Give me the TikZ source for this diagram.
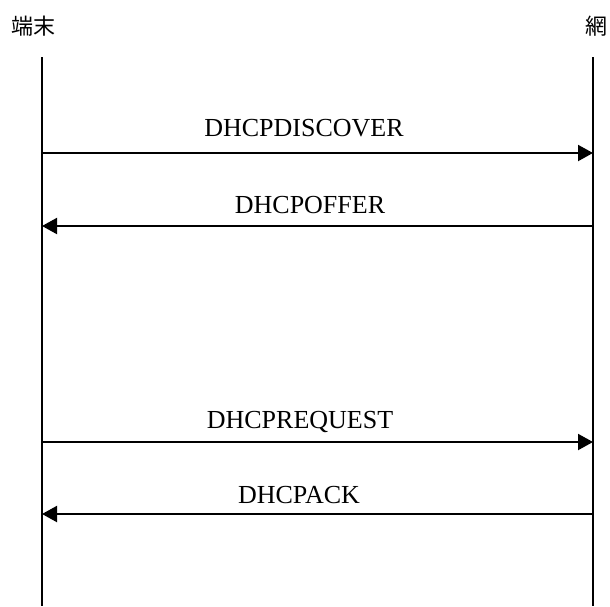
\documentclass[tikz,border=0pt]{standalone}
\usepackage{fontspec}
\setmainfont{Liberation Serif}
\newfontfamily\cjk{Noto Sans CJK JP}
\usetikzlibrary{arrows.meta}

\tikzset{
    lifeline/.style={line width=2pt},
    msg/.style={line width=2pt,-{Triangle[length=15pt,width=16pt]}},
    msglabel/.style={anchor=base,inner sep=0pt,font=\fontsize{26}{30}\selectfont},
    party/.style={inner sep=0pt,font=\cjk\fontsize{22}{26}\selectfont}
}

\begin{document}
\begin{tikzpicture}[x=1pt,y=-1pt]

    \useasboundingbox (0,0) rectangle (610,606);

    % terminal
    \node[party] (term) at (33.5,26) {端末};
    \coordinate (termtop) at (42,57);
    \coordinate (termbot) at (42,606);
    \draw[lifeline] (termtop) -- (termbot);

    % network
    \node[party] (net) at (596.5,26) {網};
    \coordinate (nettop) at (593,57);
    \coordinate (netbot) at (593,606);
    \draw[lifeline] (nettop) -- (netbot);

    %%%%%%%%%%%%%%%%%%%%%%%%%%%%%%%%%%%%%%%%%%%%%%%%%%%%%%

    % discover
    \coordinate (discL) at (42,153);
    \coordinate (discR) at (593,153);
    \node[msglabel] (disc) at (304,136) {DHCPDISCOVER};
    \draw[msg] (discL) to (discR);

    % offer
    \coordinate (offL) at (42,226);
    \coordinate (offR) at (593,226);
    \node[msglabel] (off) at (310,213) {DHCPOFFER};
    \draw[msg] (offR) to (offL);

    %%%%%%%%%%%%%%%%%%%%%%%%%%%%%%%%%%%%%%%%%%%%%%%%%%%%%%

    % request
    \coordinate (reqL) at (42,442);
    \coordinate (reqR) at (593,442);
    \node[msglabel] (req) at (300,428) {DHCPREQUEST};
    \draw[msg] (reqL) to (reqR);

    % ack
    \coordinate (ackL) at (42,514);
    \coordinate (ackR) at (593,514);
    \node[msglabel] (ack) at (299,503) {DHCPACK};
    \draw[msg] (ackR) to (ackL);

\end{tikzpicture}
\end{document}
